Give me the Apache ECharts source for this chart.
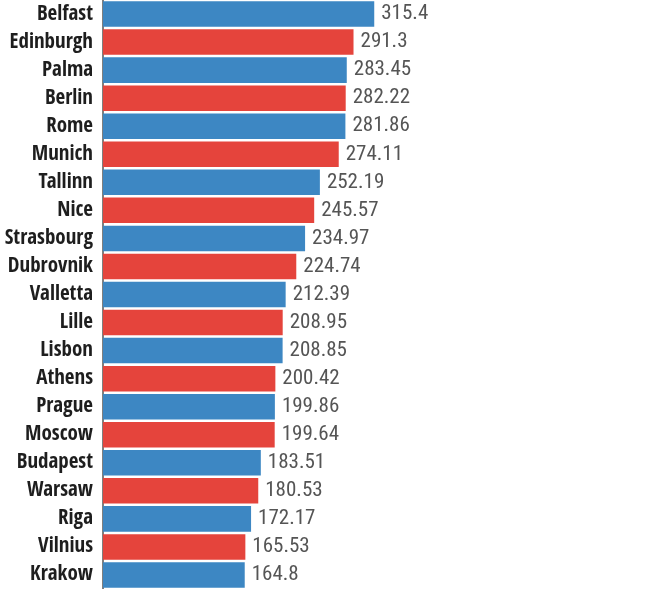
<!DOCTYPE html>
<html>
<head>
<meta charset="utf-8">
<script src="https://cdn.jsdelivr.net/npm/echarts@6/dist/echarts.min.js"></script>
<style>
  html, body { margin: 0; padding: 0; background: #fff; }
  #chart { width: 650px; height: 589px; }
</style>
</head>
<body>
<div id="chart"></div>
<script>
// cities top to bottom, with their values
const cities = [
  'Belfast', 'Edinburgh', 'Palma', 'Berlin', 'Rome', 'Munich', 'Tallinn',
  'Nice', 'Strasbourg', 'Dubrovnik', 'Valletta', 'Lille', 'Lisbon', 'Athens',
  'Prague', 'Moscow', 'Budapest', 'Warsaw', 'Riga', 'Vilnius', 'Krakow'
];
const values = [
  315.4, 291.3, 283.45, 282.22, 281.86, 274.11, 252.19,
  245.57, 234.97, 224.74, 212.39, 208.95, 208.85, 200.42,
  199.86, 199.64, 183.51, 180.53, 172.17, 165.53, 164.8
];
const valueLabels = [
  '315.4', '291.3', '283.45', '282.22', '281.86', '274.11', '252.19',
  '245.57', '234.97', '224.74', '212.39', '208.95', '208.85', '200.42',
  '199.86', '199.64', '183.51', '180.53', '172.17', '165.53', '164.8'
];

const blue = '#3d87c3';
const red = '#e5443c';
const catFont = '"Open Sans Condensed", "Roboto Condensed", sans-serif';
const numFont = '"Roboto Condensed", "Open Sans Condensed", sans-serif';

const chart = echarts.init(document.getElementById('chart'));
chart.setOption({
  animation: false,
  backgroundColor: '#fff',
  grid: { left: 103, right: 203, top: 0, bottom: 0, containLabel: false, outerBoundsMode: 'none' },
  xAxis: {
    type: 'value',
    min: 0,
    max: 400,
    show: false
  },
  yAxis: {
    type: 'category',
    data: cities,
    inverse: true,
    axisTick: { show: false },
    axisLine: { show: true, lineStyle: { color: '#555', width: 1.5 } },
    axisLabel: {
      interval: 0,
      margin: 10,
      color: '#1e1e1e',
      fontFamily: catFont,
      fontWeight: 600,
      fontSize: 21
    }
  },
  series: [{
    type: 'bar',
    data: values.map((v, i) => ({
      value: v,
      itemStyle: { color: i % 2 === 0 ? blue : red }
    })),
    barCategoryGap: '9%',
    label: {
      show: true,
      position: 'right',
      distance: 7,
      color: '#555',
      fontFamily: numFont,
      fontWeight: 'normal',
      fontSize: 21,
      formatter: p => valueLabels[p.dataIndex]
    }
  }]
});
</script>
</body>
</html>
